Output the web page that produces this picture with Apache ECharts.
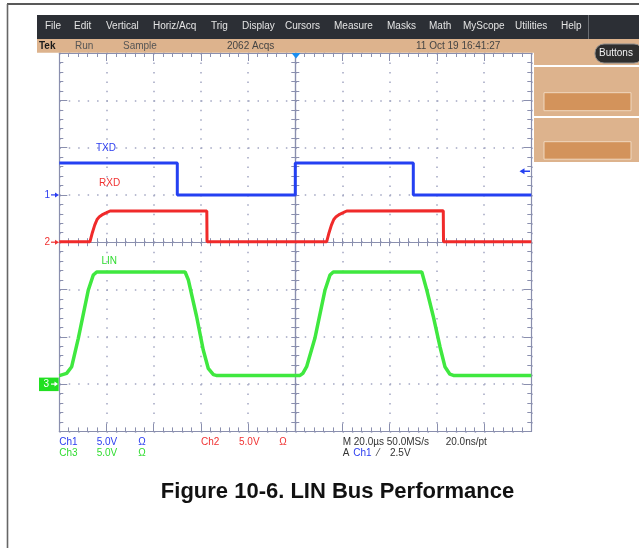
<!DOCTYPE html>
<html><head><meta charset="utf-8">
<script src="https://cdn.jsdelivr.net/npm/echarts@6/dist/echarts.min.js"></script>
<style>html,body{margin:0;padding:0;background:#fff}#c{width:639px;height:548px}</style>
</head><body><div id="c"></div>
<script>
// ---- data (time in microseconds, amplitude in volts) ----
const txdTime = [0, 50, 50, 100, 100, 150, 150, 200];
const txdVolt = [3.38, 3.38, 0, 0, 3.38, 3.38, 0, 0];
const rxdTime = [0, 13, 14, 15, 16, 17, 18.5, 20, 21.5, 62.5, 62.6, 113.3, 114.3, 115.3, 116.3, 117.3, 118.8, 120.3, 121.8, 162.7, 162.8, 200];
const rxdVolt = [0.05, 0.05, 1.0, 1.8, 2.4, 2.7, 2.95, 3.12, 3.3, 3.3, 0.05, 0.05, 1.0, 1.8, 2.4, 2.7, 2.95, 3.12, 3.3, 3.33, 0.05, 0.05];
const linTime = [0, 3.1, 5.25, 8.05, 12.3, 14.4, 15.85, 53.3, 54.7, 58.2, 61.0, 63.1, 65.3, 66.5, 102, 103.2, 104.8, 108.3, 112.6, 114.7, 116.1, 153.6, 155.7, 158.5, 161.3, 163.4, 165.5, 167, 200];
const linVolt = [0.9, 1.14, 1.84, 4.84, 9.95, 11.53, 11.85, 11.85, 11.0, 7.12, 3.6, 1.67, 1.0, 0.92, 0.92, 1.14, 1.84, 4.84, 9.95, 11.53, 11.85, 11.85, 9.95, 7.12, 3.95, 1.84, 1.05, 0.92, 0.92];
const traceNames = ['TXD', 'RXD', 'LIN'];
const channelNames = ['1', '2', '3'];
// scope settings
const timeMinUs = 0, timeMaxUs = 200, usPerDiv = 20;
const voltsPerDiv = [5, 5, 5];
const groundDiv = [1, 0, -3];
const triggerLevelV = 2.5;
// text content
const menuItems = ['File', 'Edit', 'Vertical', 'Horiz/Acq', 'Trig', 'Display', 'Cursors', 'Measure', 'Masks', 'Math', 'MyScope', 'Utilities', 'Help'];
const statusTexts = ['Tek', 'Run', 'Sample', '2062 Acqs', '11 Oct 19 16:41:27'];
const readRow1 = ['Ch1', '5.0V', 'Ω', 'Ch2', '5.0V', 'Ω', 'M 20.0µs 50.0MS/s', '20.0ns/pt'];
const readRow2 = ['Ch3', '5.0V', 'Ω', 'A', 'Ch1', '⁄', '2.5V'];
const titleText = 'Figure 10-6. LIN Bus Performance';

// ---- layout / style ----
const G = {left: 59.3, top: 53, width: 472, height: 378.4};
const divY = G.height / 8;
const cx = G.left + G.width / 2, cy = G.top + G.height / 2;
const C_BLUE = '#2440f2', C_RED = '#f02a2a', C_GREEN = '#3fe83f';
const C_TXT_BLUE = '#2a3cf0', C_TXT_RED = '#f03232', C_TXT_GREEN = '#30dc30';
const AX = '#8a8fae', DOT = '#a2a6c2';
const FONT = 'Liberation Sans, Arial, sans-serif';
const TAN = '#ddb38d';

function pairs(t, v) { return t.map((x, i) => [x, v[i]]); }
function gy(k) { return cy - groundDiv[k] * divY; }

function borderX(pos, split) {
  return {type: 'value', gridIndex: 0, min: timeMinUs, max: timeMaxUs, interval: usPerDiv, position: pos,
    axisLine: {show: true, onZero: false, lineStyle: {color: AX, width: 1.2}},
    axisTick: {show: true, inside: true, length: 8, lineStyle: {color: AX}},
    minorTick: {show: true, splitNumber: 5, length: 4, lineStyle: {color: AX}},
    axisLabel: {show: false},
    splitLine: {show: split, lineStyle: {color: DOT, width: 1.5, type: [1.5, 7.96]}}};
}
function borderY(pos, split) {
  return {type: 'value', gridIndex: 0, min: -4, max: 4, interval: 1, position: pos,
    axisLine: {show: true, onZero: false, lineStyle: {color: AX, width: 1.2}},
    axisTick: {show: true, inside: true, length: 8, lineStyle: {color: AX}},
    minorTick: {show: true, splitNumber: 5, length: 4, lineStyle: {color: AX}},
    axisLabel: {show: false},
    splitLine: {show: split, lineStyle: {color: DOT, width: 1.5, type: [1.5, 7.94]}}};
}
function centerX(inside) {
  return {type: 'value', gridIndex: 0, min: timeMinUs, max: timeMaxUs, interval: usPerDiv, position: 'bottom',
    axisLine: {show: true, onZero: true, onZeroAxisIndex: 3, lineStyle: {color: AX, width: 1.2}},
    axisTick: {show: true, inside: inside, length: 4, lineStyle: {color: AX}},
    minorTick: {show: true, splitNumber: 5, length: 4, lineStyle: {color: AX}},
    axisLabel: {show: false}, splitLine: {show: false}};
}
function centerY(inside) {
  return {type: 'value', gridIndex: 0, min: -4, max: 4, interval: 1, position: 'left',
    axisLine: {show: true, onZero: true, onZeroAxisIndex: 2, lineStyle: {color: AX, width: 1.2}},
    axisTick: {show: true, inside: inside, length: 4, lineStyle: {color: AX}},
    minorTick: {show: true, splitNumber: 5, length: 4, lineStyle: {color: AX}},
    axisLabel: {show: false}, splitLine: {show: false}};
}
function chanY(k) {
  return {type: 'value', gridIndex: 0, show: false,
    min: (-4 - groundDiv[k]) * voltsPerDiv[k], max: (4 - groundDiv[k]) * voltsPerDiv[k],
    axisLine: {onZero: false}, splitLine: {show: false}};
}

function txt(text, x, y, fill, size, extra, z) {
  return {type: 'text', z: z || 50, silent: true,
    style: Object.assign({text: text, x: x, y: y, fill: fill, fontSize: size || 10, fontFamily: FONT,
      align: 'left', textAlign: 'left', verticalAlign: 'middle', textVerticalAlign: 'middle'}, extra || {})};
}
function rect(x, y, w, h, fill, extra) {
  return {type: 'rect', z: 5, silent: true, shape: Object.assign({x: x, y: y, width: w, height: h}, (extra && extra.shape) || {}),
    style: Object.assign({fill: fill}, (extra && extra.style) || {})};
}
function line(x1, y1, x2, y2, stroke, w, z) {
  return {type: 'line', z: z || 50, silent: true, shape: {x1: x1, y1: y1, x2: x2, y2: y2}, style: {stroke: stroke, lineWidth: w || 1}};
}
function poly(points, fill, z) {
  return {type: 'polygon', z: z || 60, silent: true, shape: {points: points}, style: {fill: fill}};
}

const g = [];
// page frame
g.push(line(7, 4, 639, 4, '#222', 1.6, 10));
g.push(line(7.5, 4, 7.5, 548, '#666', 1.6, 10));
// menu bar
g.push(rect(37, 15, 602, 24, '#2c2f35'));
const menuX = [45, 74, 106, 153, 211, 242, 285, 334, 387, 429, 463, 515, 561];
menuItems.forEach((m, i) => g.push(txt(m, menuX[i], 26.5, '#e4e4e4', 10)));
g.push(line(588.5, 15, 588.5, 39, '#6a6d72', 1, 20));
// status bar
g.push(rect(37, 39, 602, 13.7, TAN));
const statusX = [39, 75, 123, 227, 416];
const statusC = ['#1a1a1a', '#555', '#555', '#444', '#444'];
statusTexts.forEach((s, i) => g.push(txt(s, statusX[i], 46, statusC[i], 10, i === 0 ? {fontWeight: 'bold'} : {})));
// right panel
g.push(rect(534, 52, 105, 110, TAN));
g.push(rect(534, 65, 105, 2, '#fff', {}));
g.push(rect(534, 116, 105, 2, '#fff', {}));
g.push(rect(544, 92.7, 87, 18, '#d3935b', {style: {stroke: '#f0d8bf', lineWidth: 1}}));
g.push(rect(544, 141.7, 87, 17.5, '#d3935b', {style: {stroke: '#f0d8bf', lineWidth: 1}}));
g.push({type: 'rect', z: 30, silent: true, shape: {x: 595, y: 44, width: 48, height: 19, r: 9},
  style: {fill: '#2e2e2e', stroke: '#8a8a8a', lineWidth: 1}});
g.push(txt('Buttons', 599, 53.5, '#f2f2f2', 10));
// channel markers
const markerC = [C_TXT_BLUE, C_TXT_RED];
[0, 1].forEach(k => {
  const y = gy(k);
  g.push(txt(channelNames[k], 44.5, y, markerC[k], 10));
  g.push(line(51, y, 57, y, markerC[k], 1.2, 60));
  g.push(poly([[59, y], [55, y - 2.5], [55, y + 2.5]], markerC[k]));
});
{
  const y = gy(2);
  g.push({type: 'rect', z: 55, silent: true, shape: {x: 39, y: y - 6.5, width: 19.7, height: 13.5}, style: {fill: '#22e022'}});
  g.push(txt(channelNames[2], 43.5, y + 0.5, '#ffffff', 10, {}, 65));
  g.push(line(51, y, 55.5, y, '#fff', 1.2, 65));
  g.push(poly([[58, y], [54.5, y - 2.5], [54.5, y + 2.5]], '#fff', 65));
}
// trigger position (top) and trigger level (right)
g.push(poly([[291.5, 53], [300.5, 53], [296, 58.5]], '#1c8ef0', 70));
{
  const y = gy(0) - triggerLevelV / voltsPerDiv[0] * divY;
  g.push(line(523, y, 530, y, C_BLUE, 1.5, 70));
  g.push(poly([[519.5, y], [524.5, y - 3], [524.5, y + 3]], C_BLUE, 70));
}
// trace labels
g.push(txt(traceNames[0], 96, 148.5, C_TXT_BLUE, 10));
g.push(txt(traceNames[1], 99, 183, C_TXT_RED, 10));
g.push(txt(traceNames[2], 101.5, 261, C_TXT_GREEN, 10));
// readouts
const r1x = [59.3, 96.7, 138.3, 201, 239, 279.3, 342.7, 445.7];
const r1c = [C_TXT_BLUE, C_TXT_BLUE, C_TXT_BLUE, C_TXT_RED, C_TXT_RED, C_TXT_RED, '#333', '#333'];
readRow1.forEach((s, i) => g.push(txt(s, r1x[i], 442, r1c[i], 10)));
const r2x = [59.3, 96.7, 138.3, 342.7, 353.3, 377.5, 390];
const r2c = [C_TXT_GREEN, C_TXT_GREEN, C_TXT_GREEN, '#333', C_TXT_BLUE, '#333', '#333'];
readRow2.forEach((s, i) => g.push(txt(s, r2x[i], 453.5, r2c[i], 10)));
// title
g.push(txt(titleText, 337.5, 492, '#111', 22, {fontWeight: 'bold', align: 'center', textAlign: 'center'}));

const chart = echarts.init(document.getElementById('c'), null, {renderer: 'canvas', width: 639, height: 548});
chart.setOption({
  animation: false,
  backgroundColor: '#ffffff',
  grid: [{left: G.left, top: G.top, width: G.width, height: G.height, containLabel: false}],
  xAxis: [borderX('bottom', true), borderX('top', false),
    {type: 'value', gridIndex: 0, show: false, min: -100, max: 100, axisLine: {onZero: false}, splitLine: {show: false}},
    centerX(true), centerX(false)],
  yAxis: [chanY(0), chanY(1), chanY(2), borderY('left', true), borderY('right', false), centerY(true), centerY(false)],
  graphic: {elements: g},
  series: [
    {name: traceNames[2], type: 'line', xAxisIndex: 0, yAxisIndex: 2, data: pairs(linTime, linVolt),
      showSymbol: false, silent: true, z: 3, lineStyle: {color: C_GREEN, width: 3.5}},
    {name: traceNames[1], type: 'line', xAxisIndex: 0, yAxisIndex: 1, data: pairs(rxdTime, rxdVolt),
      showSymbol: false, silent: true, z: 4, lineStyle: {color: C_RED, width: 3}},
    {name: traceNames[0], type: 'line', xAxisIndex: 0, yAxisIndex: 0, data: pairs(txdTime, txdVolt),
      showSymbol: false, silent: true, z: 5, lineStyle: {color: C_BLUE, width: 3}}
  ]
});
</script></body></html>
